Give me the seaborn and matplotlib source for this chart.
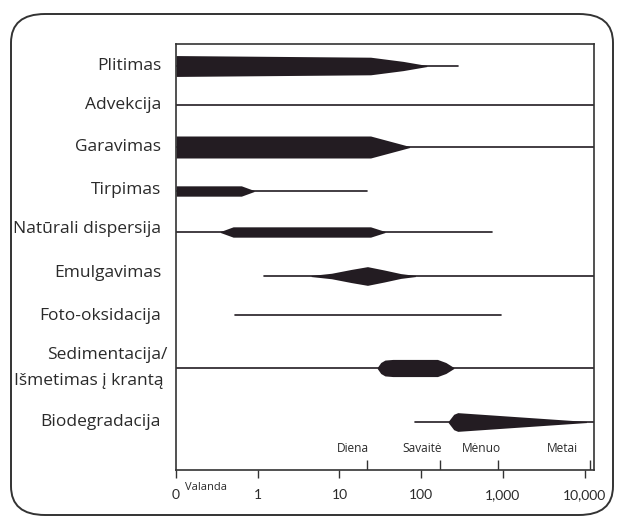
import numpy as np
import pandas as pd
import seaborn as sns
import matplotlib
matplotlib.use("Agg")
import matplotlib.pyplot as plt
from matplotlib.patches import FancyBboxPatch
from matplotlib.transforms import blended_transform_factory

# ---------------- data ----------------
processes = ["Plitimas", "Advekcija", "Garavimas", "Tirpimas",
             "Natūrali dispersija", "Emulgavimas", "Foto-oksidacija",
             "Sedimentacija/\nIšmetimas į krantą", "Biodegradacija"]

# thin line span of each process (hours)
span_start = [0.1, 0.1, 0.1, 0.1, 0.1, 1.2, 0.52, 0.1, 85]
span_end = [280, 13000, 13000, 22, 740, 13000, 950, 13000, 13000]

# band profiles: time (hours) and relative thickness (0..1)
band_t = {
    "Plitimas": [0.1, 24, 60, 117],
    "Advekcija": [],
    "Garavimas": [0.1, 24, 72],
    "Tirpimas": [0.1, 0.63, 0.9],
    "Natūrali dispersija": [0.35, 0.5, 24, 36],
    "Emulgavimas": [4.5, 8, 14, 22, 35, 56, 85],
    "Foto-oksidacija": [],
    "Sedimentacija/\nIšmetimas į krantą": [29, 32, 36, 45, 158, 200, 250],
    "Biodegradacija": [214, 250, 280, 10500],
}
band_v = {
    "Plitimas": [0.95, 0.8, 0.42, 0.05],
    "Advekcija": [],
    "Garavimas": [1.0, 1.0, 0.05],
    "Tirpimas": [0.47, 0.47, 0.05],
    "Natūrali dispersija": [0.05, 0.47, 0.47, 0.05],
    "Emulgavimas": [0.05, 0.25, 0.6, 0.85, 0.55, 0.22, 0.05],
    "Foto-oksidacija": [],
    "Sedimentacija/\nIšmetimas į krantą": [0.05, 0.5, 0.72, 0.78, 0.78, 0.5, 0.05],
    "Biodegradacija": [0.05, 0.7, 0.85, 0.05],
}

tick_values = [0.1, 1, 10, 100, 1000, 10000]
tick_labels = ["0", "1", "10", "100", "1,000", "10,000"]
period_names = ["Diena", "Savaitė", "Mėnuo", "Metai"]
period_ticks = [22, 170, 860, 11500]
unit_label = "Valanda"

# ---------------- layout ----------------
W, H = 619, 522
row_y = [66, 105, 147, 191, 232, 276, 315, 368, 422]
label_y = [66, 105, 147, 190, 229, 273, 316, 368, 422]
max_half = 11.0
ink = "#231c22"
txt = "#2a2a2a"

sns.set_theme(style="white")
plt.rcParams["font.family"] = ["Open Sans", "DejaVu Sans"]

fig = plt.figure(figsize=(W / 100, H / 100), dpi=100)
fig.patch.set_facecolor("white")

left, right, top, bottom = 176, 594, 44, 470
ax = fig.add_axes([left / W, 1 - bottom / H, (right - left) / W, (bottom - top) / H])
ax.set_xscale("log")
ax.set_xlim(0.1, 13000)
ax.set_ylim(bottom, top)

# thin lines via seaborn
rows = []
for i, p in enumerate(processes):
    rows.append({"proc": p, "t": span_start[i], "y": row_y[i]})
    rows.append({"proc": p, "t": span_end[i], "y": row_y[i]})
df = pd.DataFrame(rows)
sns.lineplot(data=df, x="t", y="y", units="proc", estimator=None,
             color=ink, linewidth=1.2, ax=ax, legend=False, sort=False)

# bands
for i, p in enumerate(processes):
    t = np.array(band_t[p], dtype=float)
    if len(t) == 0:
        continue
    v = np.array(band_v[p]) * max_half
    ax.fill_between(t, row_y[i] - v, row_y[i] + v, color=ink, linewidth=0)

# category labels
tr = blended_transform_factory(ax.transAxes, ax.transData)
px2ax = lambda px: (px - left) / (right - left)
for i, p in enumerate(processes):
    if "\n" in p:
        a, b = p.split("\n")
        ax.text(px2ax(167), label_y[i] - 13, a, transform=tr, ha="right",
                va="center", fontsize=12.5, color=txt)
        ax.text(px2ax(163), label_y[i] + 13, b, transform=tr, ha="right",
                va="center", fontsize=12.5, color=txt)
    else:
        ax.text(px2ax(161), label_y[i], p, transform=tr, ha="right",
                va="center", fontsize=12.5, color=txt)

# axes styling
for s in ax.spines.values():
    s.set_color("#333")
    s.set_linewidth(1.2)
ax.set_xticks(tick_values)
ax.set_xticklabels(tick_labels, fontfamily="Lato")
ax.xaxis.set_minor_locator(matplotlib.ticker.NullLocator())
ax.set_yticks([])
ax.tick_params(axis="x", direction="out", length=6, width=1.0, colors="#333",
               labelsize=10, pad=8, bottom=True)
for lbl in ax.get_xticklabels():
    lbl.set_color(txt)
ax.set_xlabel("")
ax.set_ylabel("")

# period ticks (upward) and labels
ax.vlines(period_ticks, 460, bottom, color="#333", linewidth=1.0)
label_shift = [0.66, 0.6, 0.64, 0.47]
for name, tv, sh in zip(period_names, period_ticks, label_shift):
    ax.text(tv * sh, 449, name, ha="center", va="center", fontsize=8.6,
            color=txt)

ax.text(0.13, 487, unit_label, ha="left", va="center", fontsize=8,
        color=txt, clip_on=False)

# outer rounded frame
frame = FancyBboxPatch((11 / W, 1 - 515 / H), (613 - 11) / W, (515 - 14) / H,
                       boxstyle="round,pad=0,rounding_size=0.055",
                       transform=fig.transFigure, fill=False,
                       edgecolor="#333", linewidth=1.4)
fig.patches.append(frame)

fig.savefig("out.png", dpi=100)
